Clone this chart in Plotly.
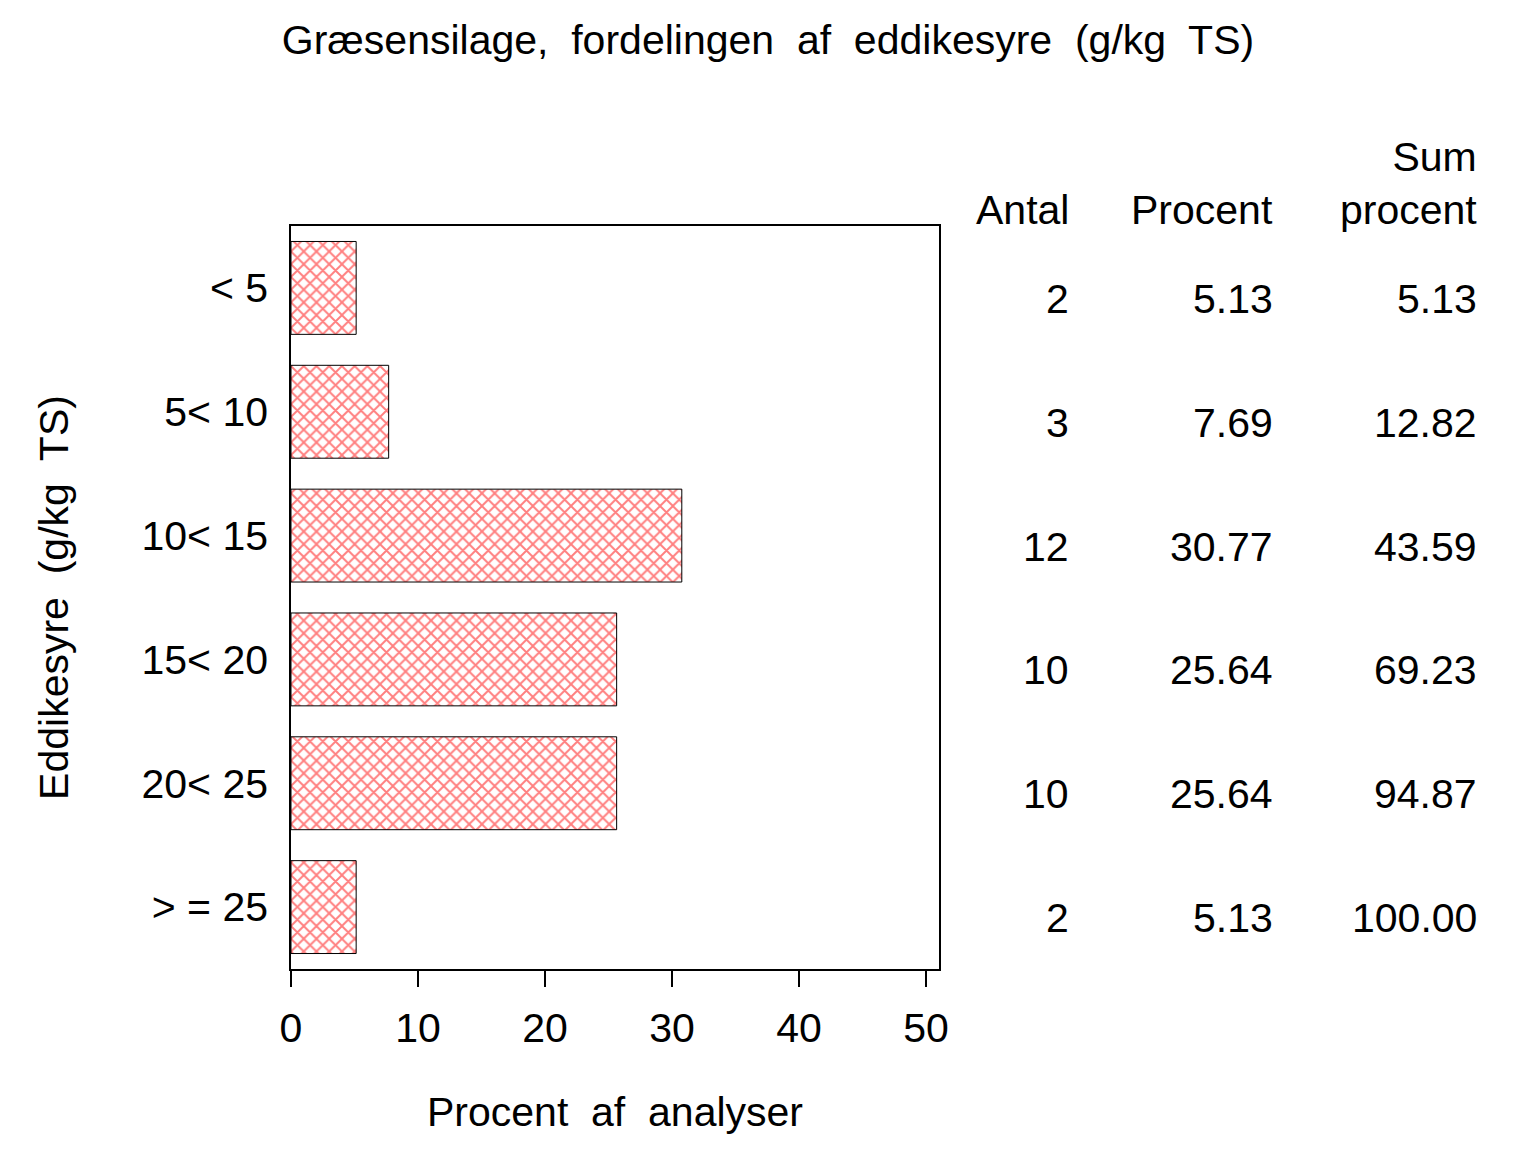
import plotly.graph_objects as go

categories = ["< 5", "5< 10", "10< 15", "15< 20", "20< 25", "> = 25"]
antal = [2, 3, 12, 10, 10, 2]
procent = [5.13, 7.69, 30.77, 25.64, 25.64, 5.13]
sum_procent = [5.13, 12.82, 43.59, 69.23, 94.87, 100.00]
x_ticks = [0, 10, 20, 30, 40, 50]

FONT = "Liberation Sans, Arial, sans-serif"
FS = 41
OFF = 8  # default body margin of the html page

fig = go.Figure()
fig.add_trace(go.Bar(
    y=categories, x=procent, orientation="h", width=0.75,
    marker=dict(color="white",
                line=dict(color="black", width=1),
                pattern=dict(shape="x", fgcolor="red", bgcolor="white",
                             size=9, solidity=0.38)),
    showlegend=False, hoverinfo="skip",
))

# plot area in page pixels (reference)
PL, PR, PT, PB = 291, 939, 226, 969
W, H = 1536 - 2 * OFF, 1152 - 2 * OFF
L, R, T, B = PL - OFF, PR - OFF, PT - OFF, PB - OFF


def px_to_paper_x(px):
    return (px - PL) / (PR - PL)


def px_to_paper_y(py):
    return (PB - py) / (PB - PT)


cols = [(1071, "Antal", antal, "{:d}"),
        (1275, "Procent", procent, "{:.2f}"),
        (1479, "Sum<br>procent", sum_procent, "{:.2f}")]

annotations = []
for px, head, vals, fmt in cols:
    annotations.append(dict(
        x=px_to_paper_x(px), xref="paper", y=px_to_paper_y(235), yref="paper",
        text=head, showarrow=False, xanchor="right", yanchor="bottom",
        align="right", font=dict(family=FONT, size=FS, color="black")))
    for cat, v in zip(categories, vals):
        annotations.append(dict(
            x=px_to_paper_x(px), xref="paper", y=cat, yref="y", yshift=-11,
            text=fmt.format(v), showarrow=False, xanchor="right", yanchor="middle",
            font=dict(family=FONT, size=FS, color="black")))

fig.update_layout(
    width=W, height=H,
    margin=dict(l=L, r=W - R, t=T, b=H - B, pad=0),
    paper_bgcolor="white", plot_bgcolor="white",
    font=dict(family=FONT, size=FS, color="black"),
    title=dict(text="Græsensilage,  fordelingen  af  eddikesyre  (g/kg  TS)",
               x=0.5, xanchor="center", y=1 - (40 - OFF) / H, yanchor="middle",
               font=dict(family=FONT, size=FS, color="black")),
    annotations=annotations,
    xaxis=dict(range=[0, 51.02], tickvals=x_ticks, ticks="outside", ticklen=16,
               tickwidth=1.5, tickcolor="black", showline=True, linecolor="black",
               linewidth=1.5, mirror=True, showgrid=False, zeroline=False,
               ticklabelstandoff=6,
               tickfont=dict(family=FONT, size=FS, color="black"),
               title=dict(text="Procent  af  analyser", standoff=47,
                          font=dict(family=FONT, size=FS, color="black"))),
    yaxis=dict(categoryorder="array", categoryarray=categories, autorange="reversed",
               showline=True, linecolor="black", linewidth=1.5,
               mirror=True, ticks="", showgrid=False, zeroline=False,
               ticklabelstandoff=13,
               tickfont=dict(family=FONT, size=FS, color="black"),
               title=dict(text="Eddikesyre  (g/kg  TS)", standoff=60,
                          font=dict(family=FONT, size=FS, color="black"))),
)

fig.write_html("out.html")
